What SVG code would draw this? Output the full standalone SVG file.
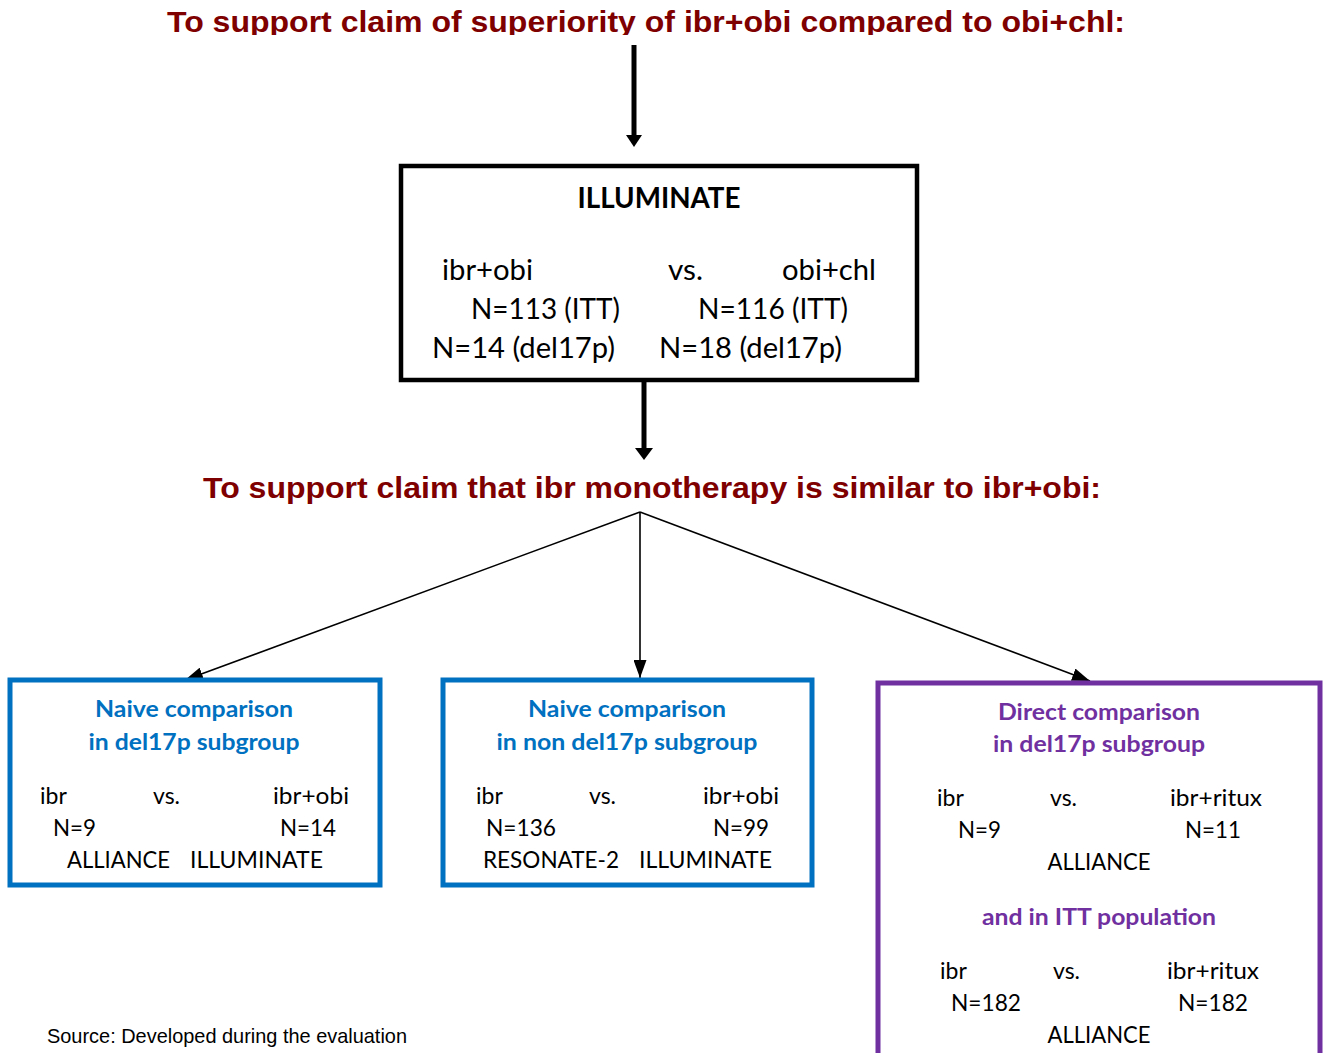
<svg xmlns="http://www.w3.org/2000/svg" width="1330" height="1053" viewBox="0 0 1330 1053">
<style>
.title{font-family:"Liberation Sans",Arial,sans-serif;font-weight:bold;font-size:30px;fill:#7f0000}
.t{font-family:Lato,"Open Sans",sans-serif;font-size:23px;fill:#000}
.big{font-family:Lato,"Open Sans",sans-serif;font-size:28px;fill:#000}
.hb{font-family:Lato,"Open Sans",sans-serif;font-weight:bold;font-size:23px;fill:#0070c0}
.hp{font-family:Lato,"Open Sans",sans-serif;font-weight:bold;font-size:23px;fill:#7030a0}
.c{text-anchor:middle}
.thin{stroke:#000;stroke-width:1.6;fill:none}
.thick{stroke:#000;stroke-width:5;fill:none}
</style>
<defs>
<clipPath id="clipTop"><rect x="0" y="0" width="1330" height="35"/></clipPath>
<marker id="ah" viewBox="0 0 10 10" refX="10" refY="5" markerWidth="11" markerHeight="8" markerUnits="userSpaceOnUse" orient="auto" preserveAspectRatio="none"><path d="M0,0 L10,5 L0,10 z" fill="#000"/></marker>
<marker id="ahs" viewBox="0 0 10 10" refX="10" refY="5" markerWidth="18" markerHeight="13" markerUnits="userSpaceOnUse" orient="auto" preserveAspectRatio="none"><path d="M0,0 L10,5 L0,10 z" fill="#000"/></marker>
</defs>
<rect width="1330" height="1053" fill="#fff"/>

<g id="title1" clip-path="url(#clipTop)">
<text class="title" x="167" y="32" textLength="958" lengthAdjust="spacingAndGlyphs">To support claim of superiority of ibr+obi compared to obi+chl:</text>
</g>

<g id="connectors">
<line class="thick" x1="634" y1="45" x2="634" y2="136"/>
<path d="M626,135 L642,135 L634,147 z" fill="#000"/>
<line class="thick" x1="644" y1="380" x2="644" y2="449"/>
<path d="M635,448 L653,448 L644,460 z" fill="#000"/>
<line class="thin" x1="640" y1="512" x2="185" y2="680" marker-end="url(#ahs)"/>
<line class="thin" x1="640" y1="512" x2="640" y2="678" marker-end="url(#ahs)"/>
<line class="thin" x1="640" y1="512" x2="1090" y2="681" marker-end="url(#ahs)"/>
</g>

<g id="illuminate">
<rect x="401" y="166" width="516" height="214" fill="#fff" stroke="#000" stroke-width="4.5"/>
<text class="big c" x="659" y="208" font-weight="bold" font-size="26" textLength="163" lengthAdjust="spacingAndGlyphs">ILLUMINATE</text>
<text class="big" x="442" y="280" textLength="91" lengthAdjust="spacingAndGlyphs">ibr+obi</text>
<text class="big" x="668" y="280" textLength="35" lengthAdjust="spacingAndGlyphs">vs.</text>
<text class="big" x="782" y="280" textLength="94" lengthAdjust="spacingAndGlyphs">obi+chl</text>
<text class="big" x="471" y="319" textLength="149" lengthAdjust="spacingAndGlyphs">N=113 (ITT)</text>
<text class="big" x="698" y="319" textLength="150" lengthAdjust="spacingAndGlyphs">N=116 (ITT)</text>
<text class="big" x="432" y="358" textLength="183" lengthAdjust="spacingAndGlyphs">N=14 (del17p)</text>
<text class="big" x="659" y="358" textLength="183" lengthAdjust="spacingAndGlyphs">N=18 (del17p)</text>
</g>

<g id="title2">
<text class="title" x="203" y="498" textLength="898" lengthAdjust="spacingAndGlyphs">To support claim that ibr monotherapy is similar to ibr+obi:</text>
</g>

<g id="naive-del17p">
<rect x="10" y="680" width="370" height="205" fill="#fff" stroke="#0070c0" stroke-width="5"/>
<text class="hb c" x="194" y="717" textLength="198" lengthAdjust="spacingAndGlyphs">Naive comparison</text>
<text class="hb c" x="194" y="750" textLength="211" lengthAdjust="spacingAndGlyphs">in del17p subgroup</text>
<text class="t" x="40" y="804">ibr</text>
<text class="t" x="153" y="804">vs.</text>
<text class="t" x="273" y="804" textLength="76" lengthAdjust="spacingAndGlyphs">ibr+obi</text>
<text class="t" x="53" y="836" textLength="43" lengthAdjust="spacingAndGlyphs">N=9</text>
<text class="t" x="280" y="836" textLength="56" lengthAdjust="spacingAndGlyphs">N=14</text>
<text class="t" x="67" y="868" textLength="103" lengthAdjust="spacingAndGlyphs">ALLIANCE</text>
<text class="t" x="190" y="868" textLength="133" lengthAdjust="spacingAndGlyphs">ILLUMINATE</text>
</g>

<g id="naive-non-del17p">
<rect x="443" y="680" width="369" height="205" fill="#fff" stroke="#0070c0" stroke-width="5"/>
<text class="hb c" x="627" y="717" textLength="198" lengthAdjust="spacingAndGlyphs">Naive comparison</text>
<text class="hb c" x="627" y="750" textLength="261" lengthAdjust="spacingAndGlyphs">in non del17p subgroup</text>
<text class="t" x="476" y="804">ibr</text>
<text class="t" x="589" y="804">vs.</text>
<text class="t" x="703" y="804" textLength="76" lengthAdjust="spacingAndGlyphs">ibr+obi</text>
<text class="t" x="486" y="836" textLength="70" lengthAdjust="spacingAndGlyphs">N=136</text>
<text class="t" x="713" y="836" textLength="56" lengthAdjust="spacingAndGlyphs">N=99</text>
<text class="t" x="483" y="868" textLength="136" lengthAdjust="spacingAndGlyphs">RESONATE-2</text>
<text class="t" x="639" y="868" textLength="133" lengthAdjust="spacingAndGlyphs">ILLUMINATE</text>
</g>

<g id="direct">
<rect x="878" y="683" width="442" height="390" fill="#fff" stroke="#7030a0" stroke-width="5"/>
<text class="hp c" x="1099" y="720" textLength="202" lengthAdjust="spacingAndGlyphs">Direct comparison</text>
<text class="hp c" x="1099" y="752" textLength="212" lengthAdjust="spacingAndGlyphs">in del17p subgroup</text>
<text class="t" x="937" y="806">ibr</text>
<text class="t" x="1050" y="806">vs.</text>
<text class="t" x="1170" y="806" textLength="92" lengthAdjust="spacingAndGlyphs">ibr+ritux</text>
<text class="t" x="958" y="838" textLength="43" lengthAdjust="spacingAndGlyphs">N=9</text>
<text class="t" x="1185" y="838" textLength="56" lengthAdjust="spacingAndGlyphs">N=11</text>
<text class="t c" x="1099" y="870" textLength="103" lengthAdjust="spacingAndGlyphs">ALLIANCE</text>
<text class="hp c" x="1099" y="925" textLength="234" lengthAdjust="spacingAndGlyphs">and in ITT population</text>
<text class="t" x="940" y="979">ibr</text>
<text class="t" x="1053" y="979">vs.</text>
<text class="t" x="1167" y="979" textLength="92" lengthAdjust="spacingAndGlyphs">ibr+ritux</text>
<text class="t" x="951" y="1011" textLength="70" lengthAdjust="spacingAndGlyphs">N=182</text>
<text class="t" x="1178" y="1011" textLength="70" lengthAdjust="spacingAndGlyphs">N=182</text>
<text class="t c" x="1099" y="1043" textLength="103" lengthAdjust="spacingAndGlyphs">ALLIANCE</text>
</g>

<g id="source">
<text x="47" y="1043" font-family="'Liberation Sans',Arial,sans-serif" font-size="21" fill="#000" textLength="360" lengthAdjust="spacingAndGlyphs">Source:  Developed during the evaluation</text>
</g>
</svg>
